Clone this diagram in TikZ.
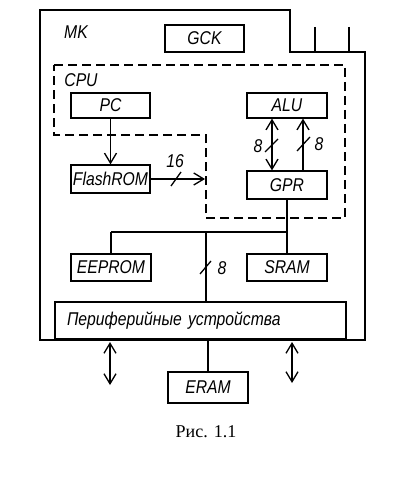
\documentclass[tikz,border=0pt]{standalone}
\usepackage{fontspec}
\setmainfont{Liberation Serif}
\newfontfamily\gost[FakeStretch=0.85]{Liberation Sans}
\usetikzlibrary{arrows.meta}
\tikzset{
  ln/.style={line width=1.3pt},
  blk/.style={draw, line width=1.3pt, rectangle, inner sep=0pt, font=\gost\itshape\fontsize{18.5}{20}\selectfont},
  lbl/.style={inner sep=0pt, font=\gost\itshape\fontsize{18.5}{20}\selectfont},
  arr/.style={ln, -{Straight Barb[length=10pt,width=12pt,line width=1.3pt]}},
  darr/.style={ln, {Straight Barb[length=10pt,width=12pt,line width=1.3pt]}-{Straight Barb[length=10pt,width=12pt,line width=1.3pt]}},
  cpub/.style={ln, dash pattern=on 9pt off 5pt}
}
\begin{document}
\begin{tikzpicture}[x=1pt,y=-1pt]
\useasboundingbox (0,0) rectangle (417,484);
% MK outline
\draw[ln] (40,10) -- (290,10) -- (290,52) -- (365,52) -- (365,340) -- (40,340) -- cycle;
\coordinate (p1t) at (315,27); \coordinate (p1b) at (315,52);
\coordinate (p2t) at (349,27); \coordinate (p2b) at (349,52);
\draw[ln] (p1t) -- (p1b);
\draw[ln] (p2t) -- (p2b);
\node[lbl] (mk) at (76,32) {MK};
% CPU dashed
\draw[cpub] (54,65) -- (345,65) -- (345,218) -- (206,218) -- (206,135) -- (54,135) -- cycle;
\node[lbl] (cpu) at (81,80) {CPU};
% blocks
\node[blk, minimum width=79pt, minimum height=27pt] (gck) at (204.5,38.5) {GCK};
\node[blk, minimum width=79pt, minimum height=25pt] (pc) at (110.5,105.5) {PC};
\node[blk, minimum width=80pt, minimum height=25pt] (alu) at (287,105.5) {ALU};
\node[blk, minimum width=79pt, minimum height=28pt] (flash) at (110.5,179) {FlashROM};
\node[blk, minimum width=80pt, minimum height=28pt] (gpr) at (287,185) {GPR};
\node[blk, minimum width=80pt, minimum height=27pt] (eeprom) at (111,267.5) {EEPROM};
\node[blk, minimum width=80pt, minimum height=27pt] (sram) at (287,267.5) {SRAM};
\node[blk, minimum width=291pt, minimum height=37pt, align=left, text width=267pt] (per) at (200.5,320.5) {Периферийные устройства};
\node[blk, minimum width=80pt, minimum height=31pt] (eram) at (208,387.5) {ERAM};
% PC -> FlashROM
\draw[arr] (pc.south) -- (flash.north);
% FlashROM -> CPU
\coordinate (cpuin) at (205,179);
\draw[arr] (flash.east) -- (cpuin);
\draw[ln] (171,186) -- (181,172);
\node[lbl] (n16) at (175,161) {16};
% ALU <-> GPR
\coordinate (xl) at (272,0);
\coordinate (xr) at (303,0);
\draw[darr] (xl |- alu.south) -- (xl |- gpr.north);
\draw[arr] (xr |- gpr.north) -- (xr |- alu.south);
\draw[ln] (265,152) -- (278,139);
\draw[ln] (297,151) -- (310,137);
\node[lbl] (n8a) at (258,146) {8};
\node[lbl] (n8b) at (319,144) {8};
% bus
\coordinate (bl) at (111,232);
\coordinate (bm) at (206,232);
\coordinate (br) at (287,232);
\draw[ln] (gpr.south) -- (sram.north);
\draw[ln] (bl) -- (br);
\draw[ln] (bl) -- (eeprom.north);
\draw[ln] (bm) -- (bm |- per.north);
\draw[ln] (200,274) -- (211,261);
\node[lbl] (n8c) at (222,268) {8};
% bottom
\coordinate (la) at (110,342); \coordinate (lb) at (110,385);
\coordinate (ra) at (292,342); \coordinate (rb) at (292,383);
\draw[darr] (la) -- (lb);
\draw[darr] (ra) -- (rb);
\draw[ln] (per.south -| eram.north) -- (eram.north);
\node[font=\fontsize{18}{20}\selectfont, inner sep=0pt] (cap) at (206,432) {Рис. 1.1};
\end{tikzpicture}
\end{document}
